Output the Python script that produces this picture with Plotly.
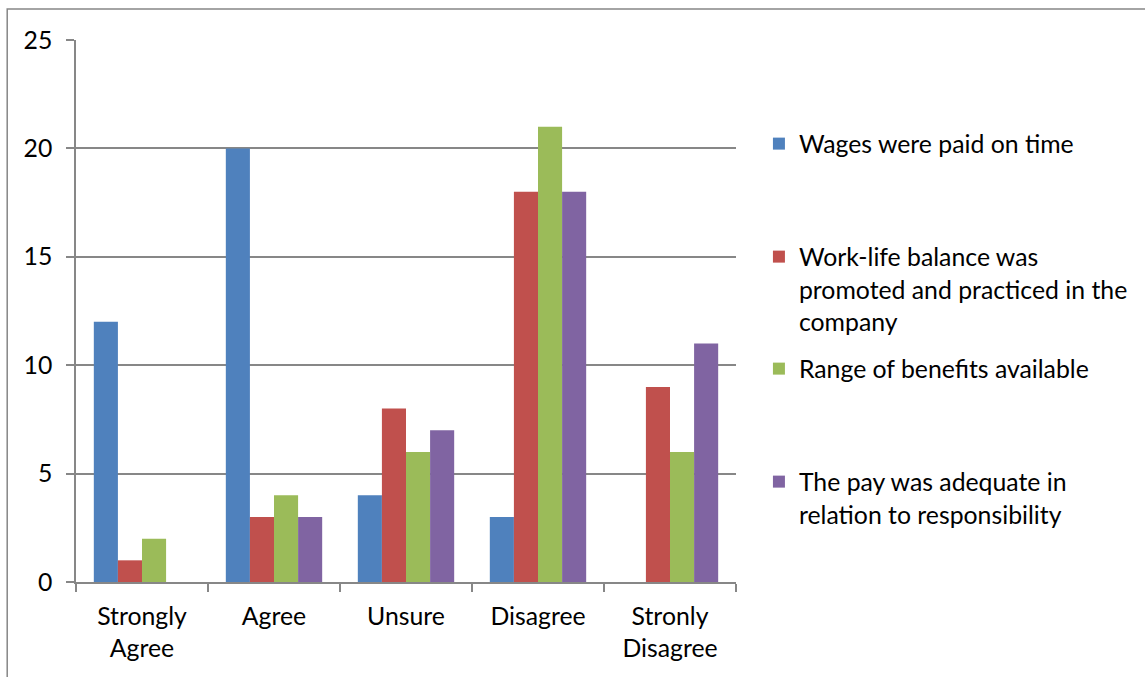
import plotly.graph_objects as go

categories = ["Strongly<br>Agree", "Agree", "Unsure", "Disagree", "Stronly<br>Disagree"]
series_names = [
    "Wages were paid on time",
    "Work-life balance was<br>promoted and practiced in the<br>company",
    "Range of benefits available",
    "The pay was adequate in<br>relation to responsibility",
]
wages = [12, 20, 4, 3, 0]
worklife = [1, 3, 8, 18, 9]
benefits = [2, 4, 6, 21, 6]
pay = [0, 3, 7, 18, 11]
colors = ["#4F81BD", "#C0504D", "#9BBB59", "#8064A2"]
y_ticks = [0, 5, 10, 15, 20, 25]

W, H = 1145, 677
L, R, T, B = 76, 738, 40, 582
FONT = "Lato"
FS = 24.8
GRID = "#878787"

def px_x(p):
    return (p - L) / (R - L)

def px_y(p):
    return (B - p) / (B - T)

fig = go.Figure()
legend_ids = ["legend", "legend2", "legend3", "legend4"]
legend_tops = [121, 234, 346, 459]
for name, vals, col, lid in zip(series_names, [wages, worklife, benefits, pay], colors, legend_ids):
    fig.add_trace(go.Bar(x=categories, y=vals, name=name, marker=dict(color=col, line=dict(width=0)),
                         legend=lid))

layout_legends = {}
for lid, top in zip(legend_ids, legend_tops):
    layout_legends[lid] = dict(
        x=px_x(761), xanchor="left", y=px_y(top), yanchor="top",
        font=dict(family=FONT, size=FS, color="#000000"),
        bgcolor="rgba(0,0,0,0)", valign="top", itemclick=False, itemdoubleclick=False,
    )

fig.update_layout(
    width=W, height=H,
    margin=dict(l=L, r=W - R, t=T, b=H - B, pad=0),
    paper_bgcolor="white", plot_bgcolor="white",
    barmode="group", bargap=0.27, bargroupgap=0,
    font=dict(family=FONT, size=FS, color="#000000"),
    showlegend=True,
    **layout_legends,
)
fig.update_yaxes(
    range=[0, 25], tickvals=y_ticks, showgrid=True, gridcolor=GRID, gridwidth=1.5,
    showline=True, linecolor=GRID, linewidth=1.5, ticks="outside", ticklen=8, tickcolor=GRID,
    tickwidth=1.5, ticklabelstandoff=9, zeroline=False,
    tickfont=dict(family=FONT, size=FS, color="#000000"),
)
fig.update_xaxes(
    showline=True, linecolor=GRID, linewidth=1.5, ticks="outside", ticklen=8, tickcolor=GRID,
    tickwidth=1.5, tickson="boundaries", showgrid=False, ticklabelstandoff=11,
    tickfont=dict(family=FONT, size=FS, color="#000000"),
)
# outer chart border
fig.add_shape(type="rect", xref="paper", yref="paper",
              x0=px_x(7), x1=px_x(1160), y0=px_y(9), y1=px_y(690),
              line=dict(color=GRID, width=1.5), layer="above")

fig.write_html("out.html")
